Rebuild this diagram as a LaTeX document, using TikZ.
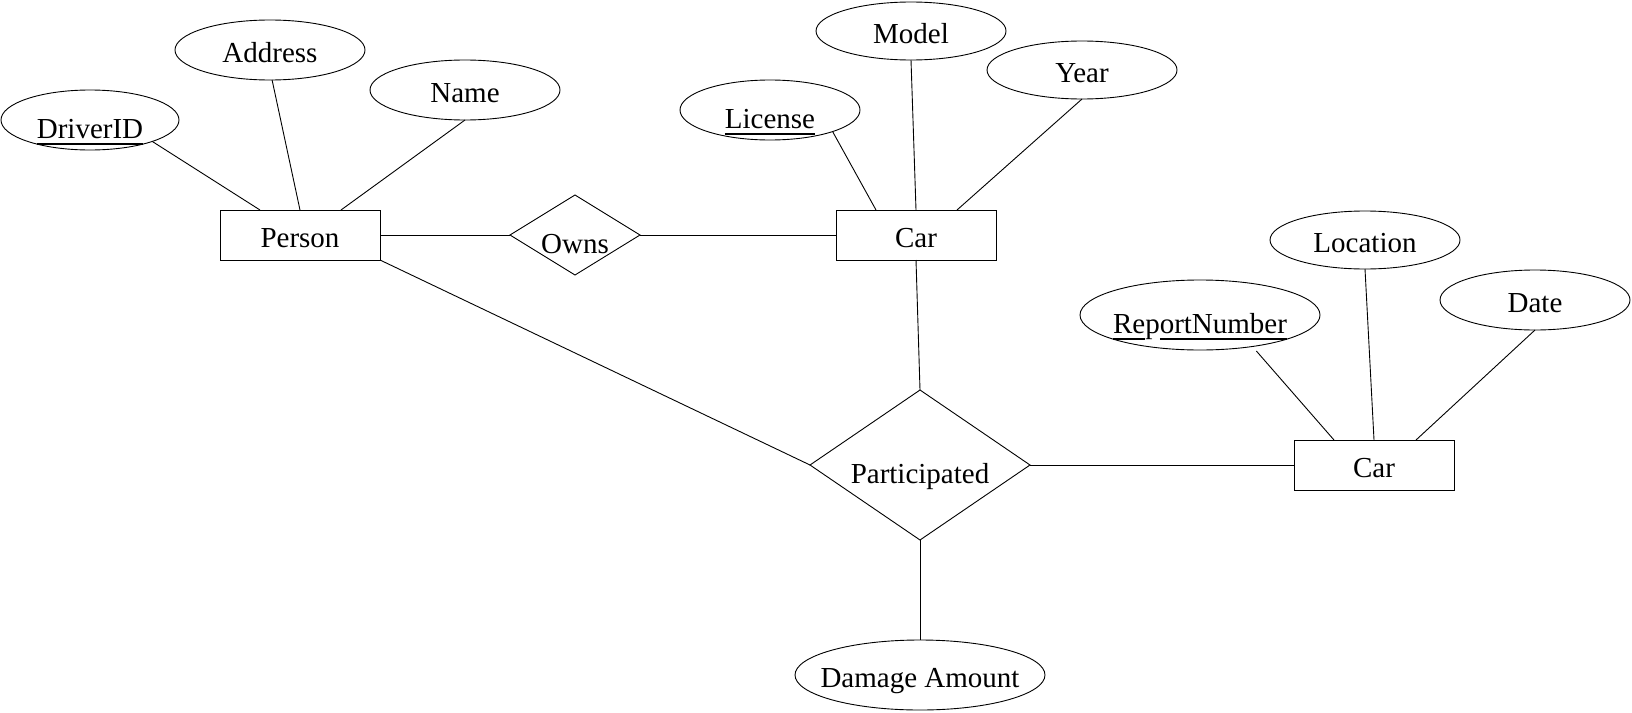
\documentclass[tikz,border=0pt]{standalone}
\usepackage{fontspec}
\setmainfont{Liberation Serif}
\usetikzlibrary{shapes.geometric}
\newcommand\ulkey[1]{\setbox0=\hbox{#1}\rlap{\rule[-7pt]{\wd0}{1.6pt}}\box0}
\newcommand\zw[1]{\makebox[0pt]{#1}}
\begin{document}
\begin{tikzpicture}[x=1pt,y=-1pt,
  every node/.style={font=\fontsize{29}{34}\selectfont, inner sep=0pt, outer sep=0pt},
  attr/.style={ellipse, draw, line width=0.9pt, text height=24pt, text depth=0pt},
  keyattr/.style={attr, text height=36pt},
  entity/.style={rectangle, draw, line width=1pt, minimum width=160pt, minimum height=50pt, text height=24pt, text depth=0pt},
  rel/.style={diamond, draw, line width=0.9pt, text height=36pt, text depth=0pt},
  link/.style={line width=0.9pt}]
\useasboundingbox (0,0) rectangle (1632,712);
% entities and relationships
\node[entity] (person) at (300,235) {\zw{Person}};
\node[entity] (car) at (916,235) {\zw{Car}};
\node[entity] (car2) at (1374,465) {\zw{Car}};
\node[rel, minimum width=130pt, minimum height=80pt] (owns) at (575,235) {\zw{Owns}};
\node[rel, minimum width=220pt, minimum height=150pt] (part) at (920,465) {\zw{Participated}};
% attributes
\node[keyattr, minimum width=178pt, minimum height=60pt] (driverid) at (90,120) {\zw{\ulkey{DriverID}}};
\node[attr, minimum width=190pt, minimum height=60pt] (address) at (270,50) {\zw{Address}};
\node[attr, minimum width=190pt, minimum height=60pt] (name) at (465,90) {\zw{Name}};
\node[keyattr, minimum width=180pt, minimum height=60pt] (license) at (770,110) {\zw{\ulkey{License}}};
\node[attr, minimum width=190pt, minimum height=58pt] (model) at (911,31) {\zw{Model}};
\node[attr, minimum width=190pt, minimum height=58pt] (year) at (1082,70) {\zw{Year}};
\node[attr, minimum width=190pt, minimum height=58pt] (location) at (1365,240) {\zw{Location}};
\node[keyattr, minimum width=240pt, minimum height=70pt] (report) at (1200,315) {\zw{\ulkey{Re}p\ulkey{ortNumber}}};
\node[attr, minimum width=190pt, minimum height=60pt] (date) at (1535,300) {\zw{Date}};
\node[attr, minimum width=250pt, minimum height=70pt] (damage) at (920,675) {\zw{Damage Amount}};
% connectors
\draw[link] (driverid.-19) -- ([xshift=-40pt]person.north);
\draw[link] (address.-86) -- (person.north);
\draw[link] (name.south) -- ([xshift=41pt]person.north);
\draw[link] (person.east) -- (owns.west);
\draw[link] (owns.east) -- (car.west);
\draw[link] (license.-19) -- ([xshift=-40pt]car.north);
\draw[link] (model.south) -- (car.north);
\draw[link] (year.south) -- ([xshift=41pt]car.north);
\draw[link] (car.south) -- (part.north);
\draw[link] (person.south east) -- (part.west);
\draw[link] (part.east) -- (car2.west);
\draw[link] (part.south) -- (damage.north);
\draw[link, shorten <=6pt] (report.-31) -- ([xshift=-40pt]car2.north);
\draw[link] (location.south) -- (car2.north);
\draw[link] (date.south) -- ([xshift=42pt]car2.north);
\end{tikzpicture}
\end{document}
